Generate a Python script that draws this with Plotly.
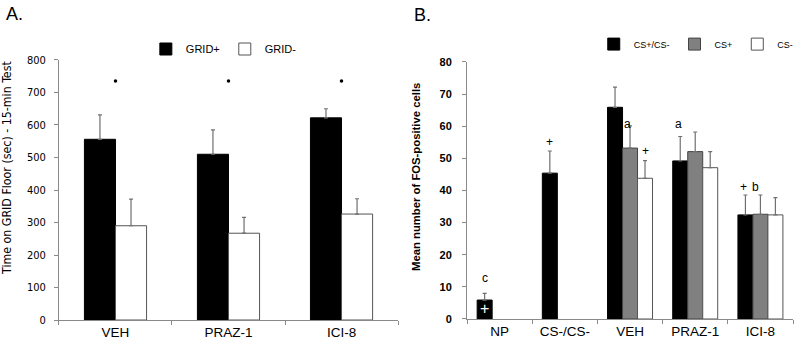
import plotly.graph_objects as go

# ---------- Panel A data ----------
a_cats = ["VEH", "PRAZ-1", "ICI-8"]
a_grid_plus = [556, 510, 622]
a_grid_plus_err = [75, 75, 28]
a_grid_minus = [290, 267, 326]
a_grid_minus_err = [82, 49, 47]
a_sig_y = [735, 735, 735]

# ---------- Panel B data ----------
b_cats = ["NP", "CS-/CS-", "VEH", "PRAZ-1", "ICI-8"]
b_csboth = [5.9, 45.4, 65.9, 49.2, 32.4]
b_csboth_err = [2.1, 6.9, 6.3, 7.6, 6.2]
b_csplus = [None, None, 53.2, 52.1, 32.6]
b_csplus_err = [0, 0, 6.9, 6.1, 6.0]
b_csminus = [None, None, 43.8, 47.1, 32.4]
b_csminus_err = [0, 0, 5.5, 5.0, 5.4]

ERR = "#707070"
AX = "#8a8a8a"
FONT = "Liberation Sans"
COND = "DejaVu Sans Condensed, DejaVu Sans"

fig = go.Figure()

# Panel A bars
wA = 0.275
fig.add_trace(go.Bar(
    x=a_cats, y=a_grid_plus, name="GRID+", xaxis="x", yaxis="y",
    width=wA, offset=-wA,
    marker=dict(color="black", line=dict(color="black", width=1)),
    error_y=dict(type="data", array=a_grid_plus_err, arrayminus=[0]*3, symmetric=False,
                 color=ERR, thickness=1.2, width=2),
    legend="legend"))
fig.add_trace(go.Bar(
    x=a_cats, y=a_grid_minus, name="GRID-", xaxis="x", yaxis="y",
    width=wA, offset=0,
    marker=dict(color="white", line=dict(color="#555555", width=1)),
    error_y=dict(type="data", array=a_grid_minus_err, arrayminus=[0]*3, symmetric=False,
                 color=ERR, thickness=1.2, width=2),
    legend="legend"))
fig.add_trace(go.Scatter(
    x=a_cats, y=a_sig_y, mode="markers", xaxis="x", yaxis="y",
    marker=dict(color="black", size=3.5), showlegend=False, hoverinfo="skip"))

# Panel B bars
wB = 0.23
for vals, errs, name, col, lc, off in [
    (b_csboth, b_csboth_err, "CS+/CS-", "black", "black", -1.5 * wB),
    (b_csplus, b_csplus_err, "CS+", "#808080", "#444444", -0.5 * wB),
    (b_csminus, b_csminus_err, "CS-", "white", "#555555", 0.5 * wB),
]:
    fig.add_trace(go.Bar(
        x=b_cats, y=vals, name=name, xaxis="x2", yaxis="y2",
        width=wB, offset=off,
        marker=dict(color=col, line=dict(color=lc, width=1)),
        error_y=dict(type="data", array=errs, arrayminus=[0]*5, symmetric=False,
                     color=ERR, thickness=1.2, width=2),
        legend="legend2"))

axis_common = dict(showline=True, linecolor=AX, linewidth=1, showgrid=False,
                   zeroline=False, ticks="outside", tickcolor=AX, ticklen=4,
                   automargin=False)

fig.update_layout(
    width=797, height=350,
    margin=dict(l=0, r=0, t=0, b=0, autoexpand=False),
    paper_bgcolor="white", plot_bgcolor="white",
    barmode="overlay",
    font=dict(family=FONT, color="black"),
    xaxis=dict(domain=[0.074, 0.4994], anchor="y", tickson="boundaries",
               tickfont=dict(size=13.5, family=FONT), **axis_common),
    yaxis=dict(domain=[0.0857, 0.8286], anchor="x", range=[0, 800], dtick=100,
               tickfont=dict(size=11, family=COND), ticklabelstandoff=6,
               **axis_common),
    xaxis2=dict(domain=[0.586, 0.995], anchor="y2", tickson="boundaries",
                tickfont=dict(size=13.5, family=FONT), **axis_common),
    yaxis2=dict(domain=[0.0886, 0.8229], anchor="x2", range=[0, 80], dtick=10,
                tickfont=dict(size=11, family=FONT, weight="bold"), ticklabelstandoff=8,
                **axis_common),
    legend=dict(orientation="h", x=0.183, y=0.86, xanchor="left", yanchor="middle",
                font=dict(size=11, family=FONT), bgcolor="rgba(0,0,0,0)",
                itemwidth=30, tracegroupgap=0),
    legend2=dict(orientation="h", x=0.745, y=0.874, xanchor="left", yanchor="middle",
                 font=dict(size=9, family=FONT), bgcolor="rgba(0,0,0,0)",
                 itemwidth=30, tracegroupgap=0),
    showlegend=True,
)

ann = [
    dict(text="A.", x=4 / 797, y=1 - 14 / 350, xref="paper", yref="paper",
         xanchor="left", yanchor="middle", showarrow=False, font=dict(size=18, family=FONT)),
    dict(text="B.", x=412 / 797, y=1 - 15 / 350, xref="paper", yref="paper",
         xanchor="left", yanchor="middle", showarrow=False, font=dict(size=18, family=FONT)),
    dict(text="Time on GRID Floor (sec) - 15-min Test", textangle=-90,
         x=7 / 797, y=1 - 168 / 350, xref="paper", yref="paper",
         xanchor="center", yanchor="middle", showarrow=False,
         font=dict(size=12.3, family=COND)),
    dict(text="Mean number of FOS-positive cells", textangle=-90,
         x=416 / 797, y=1 - 177 / 350, xref="paper", yref="paper",
         xanchor="center", yanchor="middle", showarrow=False,
         font=dict(size=11.3, family=FONT, weight="bold")),
]
# significance marks in panel B
marks = [
    ("NP", 12.7, "c", -15),
    ("CS-/CS-", 55.0, "+", -15),
    ("VEH", 60.7, "a", -3),
    ("VEH", 52.3, "+", 15),
    ("PRAZ-1", 60.7, "a", -17),
    ("ICI-8", 41.2, "+", -17),
    ("ICI-8", 41.2, "b", -5),
]
for cat, yv, txt, dx in marks:
    ann.append(dict(text=txt, x=cat, y=yv, xref="x2", yref="y2", xshift=dx,
                    showarrow=False, font=dict(size=12, family=FONT)))
ann.append(dict(text="+", x="NP", y=3.4, xref="x2", yref="y2", xshift=-15,
                showarrow=False, font=dict(size=16, family=FONT, color="white")))
fig.update_layout(annotations=ann)

fig.write_html("out.html", config={"displayModeBar": False},
               post_script="document.body.style.margin='0';document.body.style.overflow='hidden';")
